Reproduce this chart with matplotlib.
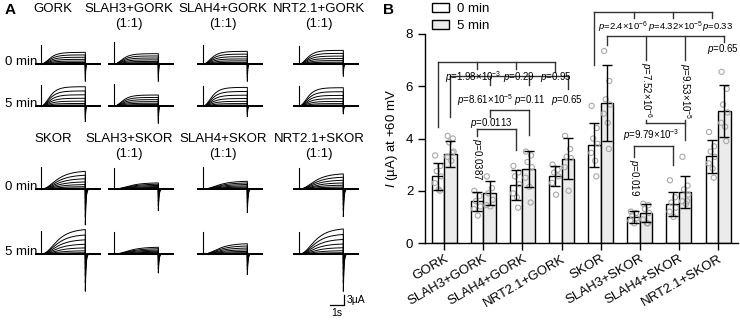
import numpy as np
import matplotlib.pyplot as plt
from matplotlib.patches import Patch

plt.rcParams['font.family'] = ['Liberation Sans', 'DejaVu Sans']
plt.rcParams['mathtext.fontset'] = 'custom'
plt.rcParams['mathtext.rm'] = 'Liberation Sans'
plt.rcParams['mathtext.it'] = 'Liberation Sans:italic'
plt.rcParams['axes.linewidth'] = 1.0

W, H = 740, 323

# ---------------- panel A: current families ----------------
titles_gork = ['GORK', 'SLAH3+GORK\n(1:1)', 'SLAH4+GORK\n(1:1)', 'NRT2.1+GORK\n(1:1)']
titles_skor = ['SKOR', 'SLAH3+SKOR\n(1:1)', 'SLAH4+SKOR\n(1:1)', 'NRT2.1+SKOR\n(1:1)']
row_names = ['0 min', '5 min', '0 min', '5 min']

# largest sweep steady-state current (uA); rows: GORK 0, GORK 5, SKOR 0, SKOR 5
top_amp = [[3.5, 3.1, 3.8, 4.1],
           [5.8, 3.3, 5.6, 5.5],
           [5.5, 1.9, 2.4, 4.7],
           [7.6, 2.1, 3.2, 7.8]]
# peak of the tail current (uA, downward)
tail_amp = [[5.2, 5.2, 5.2, 3.7],
            [4.7, 5.2, 3.2, 2.4],
            [10.8, 6.5, 7.1, 8.3],
            [11.2, 5.7, 6.2, 11.2]]
# capacitive spike at pulse onset (uA)
cap_amp = [[5.8, 6.5, 5.8, 5.5],
           [6.3, 6.6, 6.0, 6.0],
           [6.5, 6.2, 6.5, 6.2],
           [6.8, 6.5, 6.5, 6.6]]
# relative size of each sweep in the family
sweep_frac = [1.0, 0.78, 0.58, 0.4, 0.25, 0.13, 0.05, 0.01, 0.0]

# ---------------- panel B: bar chart ----------------
groups = ['GORK', 'SLAH3+GORK', 'SLAH4+GORK', 'NRT2.1+GORK',
          'SKOR', 'SLAH3+SKOR', 'SLAH4+SKOR', 'NRT2.1+SKOR']
mean_0 = [2.55, 1.60, 2.22, 2.56, 3.75, 0.99, 1.49, 3.32]
mean_5 = [3.40, 1.92, 2.84, 3.23, 5.36, 1.14, 1.95, 5.05]
sd_0 = [0.52, 0.37, 0.58, 0.39, 0.84, 0.22, 0.45, 0.63]
sd_5 = [0.50, 0.45, 0.68, 0.79, 1.47, 0.34, 0.60, 1.00]
pts_0 = [[3.35, 2.95, 2.75, 2.55, 2.3, 2.05, 2.0],
         [2.0, 1.8, 1.6, 1.4, 1.3, 1.05],
         [2.95, 2.7, 2.55, 2.25, 1.9, 1.75, 1.35],
         [3.0, 2.8, 2.7, 2.55, 2.3, 1.85],
         [5.25, 4.4, 4.0, 3.8, 3.45, 3.15, 2.55],
         [1.2, 1.15, 1.05, 0.95, 0.85, 0.75],
         [2.4, 1.75, 1.55, 1.35, 1.2, 1.0],
         [4.25, 3.7, 3.5, 3.3, 3.05, 2.85, 2.5]]
pts_5 = [[4.1, 4.0, 3.85, 3.5, 3.3, 3.15, 3.45],
         [2.55, 2.1, 1.9, 1.65, 1.45, 1.4],
         [3.5, 3.35, 3.1, 2.9, 2.5, 2.15, 1.55],
         [4.1, 3.6, 3.3, 3.25, 2.9, 2.0],
         [7.35, 6.2, 5.5, 5.3, 4.95, 4.6, 3.6],
         [1.5, 1.45, 1.3, 1.15, 0.9, 0.75, 0.75],
         [3.3, 2.2, 2.05, 1.85, 1.6, 1.5, 1.6],
         [6.55, 5.9, 5.3, 5.0, 4.6, 4.45, 3.9]]

fig = plt.figure(figsize=(W / 100, H / 100), dpi=100)

PX_S = 14.3   # px per second
PX_UA = 3.33  # px per uA
T_STEP = 3.1
spike_x = [41, 114, 203, 299]
baselines = [64, 106, 189, 254]


def draw_family(ax, top, tail, cap, tau, tau_tail):
    t_on = np.linspace(0, T_STEP, 250)
    t_off = np.linspace(T_STEP, 4.15, 300)
    for f in sweep_frac:
        i_on = top * f * (1 - np.exp(-t_on / tau)) ** 3
        i_off = -tail * f * np.exp(-(t_off - T_STEP) / tau_tail)
        t = np.concatenate([[-0.4, 0], t_on, t_off])
        i = np.concatenate([[0, 0], i_on, i_off])
        ax.plot(t, i, color='k', lw=0.7)
    ax.plot([-0.4, 4.15], [0, 0], color='k', lw=1.2)
    ax.plot([0, 0], [0, cap], color='k', lw=0.8)


for r in range(4):
    for c in range(4):
        left = spike_x[c] - 0.4 * PX_S
        bottom = baselines[r] + 12 * PX_UA
        ax = fig.add_axes([left / W, 1 - bottom / H, 4.65 * PX_S / W, 20 * PX_UA / H])
        tau = 0.4 if r < 2 else 0.7
        tau_tail = 0.025 if r < 2 else 0.05
        draw_family(ax, top_amp[r][c], tail_amp[r][c], cap_amp[r][c], tau, tau_tail)
        ax.set_xlim(-0.4, 4.25)
        ax.set_ylim(-12, 8)
        ax.axis('off')
    fig.text(37 / W, 1 - (baselines[r] - 2) / H, row_names[r], ha='right', va='center', fontsize=9.5)

title_x = [53, 129, 223, 319]
for c in range(4):
    fig.text(title_x[c] / W, 1 - 3 / H, titles_gork[c], ha='center', va='top', fontsize=9.5, linespacing=1.3)
    fig.text(title_x[c] / W, 1 - 133 / H, titles_skor[c], ha='center', va='top', fontsize=9.5, linespacing=1.3)

# scale bar
sax = fig.add_axes([330 / W, 1 - 305 / H, 1.3 * PX_S / W, 4 * PX_UA / H])
sax.plot([0, 1, 1], [0, 0, 3], color='k', lw=0.9, clip_on=False)
sax.text(1.15, 1.5, '3µA', ha='left', va='center', fontsize=7.5)
sax.text(0.5, -1.0, '1s', ha='center', va='top', fontsize=7.5)
sax.set_xlim(0, 1.3)
sax.set_ylim(0, 4)
sax.axis('off')

fig.text(5 / W, 1 - 10 / H, 'A', fontsize=11, weight='bold', va='center')
fig.text(383 / W, 1 - 10 / H, 'B', fontsize=11, weight='bold', va='center')

# ---- panel B ----
axB = fig.add_axes([425 / W, 1 - 243 / H, 313 / W, 209 / H])
x = np.arange(len(groups))
bw = 0.32
axB.bar(x - bw / 2, mean_0, bw, color='white', edgecolor='k', lw=1, zorder=2)
axB.bar(x + bw / 2, mean_5, bw, color='#ebebeb', edgecolor='k', lw=1, zorder=2)
axB.errorbar(x - bw / 2, mean_0, yerr=sd_0, fmt='none', ecolor='k', elinewidth=1,
             capsize=3.5, capthick=1, zorder=4)
axB.errorbar(x + bw / 2, mean_5, yerr=sd_5, fmt='none', ecolor='k', elinewidth=1,
             capsize=3.5, capthick=1, zorder=4)
jit = [-0.07, 0.06, -0.03, 0.08, -0.08, 0.02, 0.05, -0.05]
for i in range(len(groups)):
    for vals, off in ((pts_0[i], -bw / 2), (pts_5[i], bw / 2)):
        xs = [i + off + jit[k % len(jit)] for k in range(len(vals))]
        axB.scatter(xs, vals, s=14, facecolor='none', edgecolor='#a8a8a8', lw=0.8, zorder=3)

axB.set_xlim(-0.49, 7.51)
axB.set_ylim(0, 8)
axB.set_yticks([0, 2, 4, 6, 8])
axB.set_xticks(x)
axB.set_xticklabels(groups, rotation=30, ha='right', rotation_mode='anchor')
axB.tick_params(axis='both', length=5, width=1, labelsize=9.5)
axB.tick_params(axis='x', pad=2)
axB.spines['top'].set_visible(False)
axB.spines['right'].set_visible(False)
axB.set_ylabel(r'$\mathit{I}$ (µA) at +60 mV', fontsize=9.5, labelpad=4)

fig.legend(handles=[Patch(facecolor='white', edgecolor='k', lw=1, label='0 min'),
                    Patch(facecolor='#ebebeb', edgecolor='k', lw=1, label='5 min')],
           loc='upper left', bbox_to_anchor=(432 / W, 1 - 3 / H), frameon=False, fontsize=9.5,
           handlelength=1.3, handleheight=0.65, handletextpad=0.6, labelspacing=0.4,
           borderpad=0, borderaxespad=0)


def xw(i):
    return i - bw / 2


def xg(i):
    return i + bw / 2


def seg(xa, ya, xb, yb):
    axB.plot([xa, xb], [ya, yb], color='#333333', lw=1, clip_on=False, zorder=5)


def ptxt(xp, yp, s, rot=0, fs=7):
    axB.text(xp, yp, s, ha='center', va='center', fontsize=fs, rotation=rot,
             clip_on=False, zorder=6)


# GORK family, 0 min
seg(xw(0), 6.91, xw(3), 6.91)
seg(xw(0), 6.91, xw(0), 4.45)
seg(xw(1), 6.91, xw(1), 6.66)
seg(xw(2), 6.91, xw(2), 6.66)
seg(xw(3), 6.91, xw(3), 6.56)
ptxt(0.74, 6.36, r'$\mathit{p}$=1.98×10$^{-3}$')
ptxt(1.91, 6.36, r'$\mathit{p}$=0.29')
ptxt(2.86, 6.36, r'$\mathit{p}$=0.95')
# GORK family, 5 min
seg(xg(0), 6.40, xg(3), 6.40)
seg(xg(0), 6.40, xg(0), 4.83)
seg(xg(1), 6.40, xg(1), 6.04)
seg(xg(2), 6.40, xg(2), 6.04)
seg(xg(3), 6.40, xg(3), 5.88)
ptxt(1.05, 5.47, r'$\mathit{p}$=8.61×10$^{-5}$')
ptxt(2.19, 5.47, r'$\mathit{p}$=0.11')
ptxt(3.14, 5.47, r'$\mathit{p}$=0.65')
seg(xg(1), 5.09, xg(2), 5.09)
seg(xg(1), 5.09, xg(1), 4.83)
seg(xg(2), 5.09, xg(2), 4.12)
seg(xw(1), 4.35, xw(2), 4.35)
seg(xw(1), 4.35, xw(1), 4.08)
seg(xw(2), 4.35, xw(2), 3.55)
ptxt(1.2, 4.58, r'$\mathit{p}$=0.0113')
ptxt(xw(1), 3.2, r'$\mathit{p}$=0.0387', rot=270)

# SKOR family, 0 min
seg(xw(4), 8.84, xw(7), 8.84)
seg(xw(4), 8.84, xw(4), 6.8)
seg(xw(5), 8.84, xw(5), 8.6)
seg(xw(6), 8.84, xw(6), 8.6)
seg(xw(7), 8.84, xw(7), 8.6)
ptxt(4.56, 8.27, r'$\mathit{p}$=2.4×10$^{-6}$', fs=6.8)
ptxt(5.92, 8.27, r'$\mathit{p}$=4.32×10$^{-5}$', fs=6.8)
ptxt(6.98, 8.27, r'$\mathit{p}$=0.33', fs=6.8)
# SKOR family, 5 min
seg(xg(4), 7.92, xg(7), 7.92)
seg(xg(4), 7.92, xg(4), 7.57)
seg(xg(5), 7.92, xg(5), 7.0)
seg(xg(6), 7.92, xg(6), 7.0)
seg(xg(7), 7.92, xg(7), 7.7)
ptxt(7.12, 7.41, r'$\mathit{p}$=0.65')
ptxt(xg(5), 5.84, r'$\mathit{p}$=7.52×10$^{-6}$', rot=270)
ptxt(xg(6), 5.80, r'$\mathit{p}$=9.53×10$^{-5}$', rot=270)
seg(xg(5), 4.7, xg(5), 4.6)
seg(xg(6), 4.7, xg(6), 3.93)
seg(xg(5), 4.6, xg(6), 4.6)
seg(xw(5), 3.72, xw(6), 3.72)
seg(xw(5), 3.72, xw(5), 3.3)
seg(xw(6), 3.72, xw(6), 2.98)
ptxt(5.29, 4.13, r'$\mathit{p}$=9.79×10$^{-3}$')
ptxt(xw(5), 2.5, r'$\mathit{p}$=0.019', rot=270)

fig.savefig('out.png', dpi=100)
